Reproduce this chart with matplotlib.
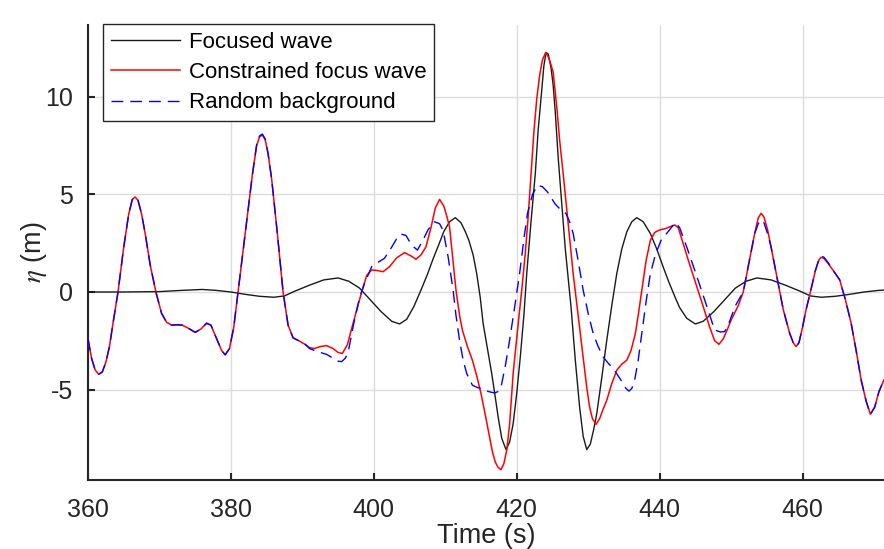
import matplotlib
matplotlib.use("Agg")
import matplotlib.pyplot as plt

# ---------------- data ----------------
t_focused = [360.0, 365.0, 370.0, 373.0, 376.0, 378.0, 380.0, 382.0, 384.0, 386.0,
             387.5, 389.0, 391.0, 393.0, 395.0, 396.5, 398.0, 399.5, 401.0, 402.5,
             403.6, 404.6, 405.6, 406.6, 407.5, 408.3, 409.05, 409.8, 410.6, 411.4,
             412.2, 412.8, 413.3, 413.9, 414.4, 414.9, 415.3, 415.9, 416.5, 417.0,
             417.4, 417.9, 418.5, 419.0, 419.5, 420.0, 420.5, 421.0, 421.4, 422.0,
             422.6, 423.0, 423.5, 423.8, 424.1, 424.4, 424.8, 425.1, 425.4, 425.8,
             426.2, 426.8, 427.6, 428.2, 428.8, 429.3, 429.8, 430.3, 430.8, 431.2,
             431.9, 432.6, 433.3, 434.0, 434.7, 435.4, 436.1, 436.8, 437.7, 438.7,
             439.6, 440.5, 441.3, 442.2, 442.8, 443.8, 445.0, 446.1, 447.6, 449.1,
             450.6, 452.1, 453.6, 455.6, 457.6, 459.6, 461.1, 462.6, 464.6, 466.6,
             468.6, 470.6, 471.4]
eta_focused = [0.0, 0.0, 0.02, 0.08, 0.13, 0.08, 0.0, -0.12, -0.22, -0.27,
               -0.2, 0.05, 0.35, 0.62, 0.72, 0.55, 0.2, -0.4, -1.0, -1.5,
               -1.64, -1.4, -0.75, 0.1, 0.9, 1.7, 2.39, 3.1, 3.6, 3.81,
               3.55, 3.1, 2.65, 1.9, 0.94, -0.3, -1.62, -2.9, -4.18, -5.4,
               -6.41, -7.5, -8.08, -7.7, -6.75, -5.2, -3.33, -1.2, 0.94, 3.6,
               6.07, 8.3, 10.34, 11.6, 12.28, 12.2, 11.5, 10.6, 9.2, 6.9,
               5.0, 2.2, -0.77, -3.5, -5.9, -7.4, -8.08, -7.8, -7.0, -6.24,
               -4.4, -2.48, -0.7, 0.94, 2.2, 3.08, 3.6, 3.81, 3.6, 3.0,
               2.2, 1.28, 0.5, -0.3, -0.8, -1.35, -1.64, -1.5, -1.0, -0.4,
               0.2, 0.55, 0.72, 0.62, 0.35, 0.05, -0.2, -0.27, -0.22, -0.12,
               0.0, 0.08, 0.1]

t_constrained = [360.0, 360.5, 361.0, 361.5, 362.0, 362.5, 363.0, 363.5, 364.2, 365.0,
                 365.7, 366.2, 366.6, 367.0, 367.5, 368.0, 368.7, 369.5, 370.3, 371.0,
                 371.7, 372.5, 373.2, 374.0, 375.0, 375.8, 376.6, 377.2, 378.0, 378.7,
                 379.2, 379.8, 380.4, 381.0, 382.0, 383.0, 383.6, 384.0, 384.4, 384.8,
                 385.2, 385.7, 386.5, 387.3, 388.0, 388.7, 389.5, 390.3, 391.0, 391.7,
                 392.5, 393.4, 394.3, 395.0, 395.6, 396.3, 397.1, 398.3, 399.0, 399.7,
                 400.5, 401.3, 402.2, 403.2, 404.3, 405.2, 405.9, 406.6, 407.3, 408.0,
                 408.6, 409.2, 409.8, 410.2, 410.6, 411.0, 411.5, 412.0, 412.4, 413.1,
                 413.8, 414.4, 415.0, 415.6, 416.2, 416.6, 417.0, 417.4, 417.8, 418.2,
                 418.6, 419.0, 419.5, 420.1, 420.7, 421.2, 421.6, 422.0, 422.4, 422.8,
                 423.2, 423.6, 424.05, 424.5, 425.1, 425.6, 426.0, 426.5, 427.2, 427.9,
                 428.6, 429.3, 429.8, 430.2, 430.6, 431.1, 431.6, 432.1, 432.6, 433.3,
                 434.0, 434.7, 435.4, 436.0, 436.6, 437.0, 437.5, 438.1, 438.7, 439.3,
                 439.8, 440.2, 440.8, 441.5, 442.1, 442.6, 443.2, 444.0, 445.0, 446.1,
                 447.0, 447.7, 448.3, 448.9, 449.5, 450.0, 451.0, 451.7, 452.5, 453.3,
                 453.8, 454.2, 454.6, 455.1, 455.6, 456.5, 457.3, 458.2, 458.7, 459.1,
                 459.5, 460.0, 460.5, 461.0, 461.8, 462.3, 462.6, 463.0, 463.6, 464.3,
                 465.2, 466.0, 466.8, 467.5, 468.2, 468.9, 469.5, 470.1, 470.7, 471.4]
eta_constrained = [-2.4, -3.4, -4.0, -4.22, -4.1, -3.6, -2.8, -1.6, 0.0, 2.3,
                   4.0, 4.75, 4.87, 4.7, 4.0, 3.0, 1.4, 0.0, -1.1, -1.55,
                   -1.7, -1.68, -1.7, -1.85, -2.07, -1.9, -1.6, -1.7, -2.4, -3.0,
                   -3.22, -2.9, -1.8, 0.0, 3.0, 6.0, 7.5, 7.95, 8.05, 7.8,
                   7.1, 5.8, 3.0, 0.0, -1.7, -2.35, -2.5, -2.67, -2.85, -2.9,
                   -2.8, -2.75, -2.9, -3.1, -3.15, -2.7, -1.6, 0.0, 0.85, 1.13,
                   1.1, 1.04, 1.3, 1.75, 2.02, 1.85, 1.68, 1.9, 2.32, 3.3,
                   4.3, 4.75, 4.4, 3.9, 3.33, 1.9, 0.09, -1.2, -1.96, -2.8,
                   -3.5, -4.3, -5.21, -6.3, -7.44, -8.2, -8.72, -9.0, -9.11, -8.8,
                   -8.12, -6.8, -4.18, -2.0, 0.09, 2.0, 3.85, 6.0, 8.2, 9.9,
                   11.1, 11.9, 12.28, 12.0, 11.28, 9.5, 7.8, 6.07, 3.5, 0.94,
                   -1.2, -3.33, -4.9, -5.9, -6.5, -6.79, -6.5, -6.0, -5.55, -4.7,
                   -4.01, -3.7, -3.5, -3.0, -2.13, -1.2, 0.09, 1.6, 2.65, 3.05,
                   3.15, 3.2, 3.25, 3.35, 3.44, 3.3, 2.6, 1.64, 0.5, -0.75,
                   -1.8, -2.5, -2.68, -2.4, -1.9, -1.44, -0.7, 0.0, 1.5, 3.0,
                   3.8, 4.03, 3.85, 3.2, 2.3, 0.62, -0.9, -2.12, -2.6, -2.8,
                   -2.6, -1.8, -0.9, -0.15, 1.1, 1.65, 1.78, 1.72, 1.45, 1.1,
                   0.62, -0.4, -1.6, -3.0, -4.51, -5.6, -6.27, -5.9, -5.1, -4.5]

t_random = [360.0, 360.5, 361.0, 361.5, 362.0, 362.5, 363.0, 363.5, 364.2, 365.0,
            365.7, 366.2, 366.6, 367.0, 367.5, 368.0, 368.7, 369.5, 370.3, 371.0,
            371.7, 372.5, 373.2, 374.0, 375.0, 375.8, 376.6, 377.2, 378.0, 378.7,
            379.2, 379.8, 380.4, 381.0, 382.0, 383.0, 383.6, 384.0, 384.4, 384.8,
            385.2, 385.7, 386.5, 387.3, 388.0, 388.7, 389.5, 390.3, 391.0, 391.7,
            392.5, 393.4, 394.3, 395.0, 395.5, 396.0, 396.4, 397.2, 398.0, 398.7,
            399.7, 400.5, 401.5, 402.5, 403.3, 403.8, 404.5, 405.3, 406.1, 406.8,
            407.6, 408.5, 409.2, 409.7, 410.4, 411.1, 411.5, 412.0, 412.5, 413.0,
            413.8, 414.5, 415.2, 416.0, 416.9, 417.4, 417.8, 418.4, 419.0, 419.7,
            420.4, 421.0, 421.5, 422.2, 422.9, 423.6, 424.3, 425.4, 426.2, 426.9,
            427.4, 427.9, 428.6, 429.3, 430.0, 430.7, 431.4, 432.1, 432.8, 433.5,
            434.2, 434.9, 435.3, 435.7, 436.1, 436.5, 437.0, 437.5, 438.1, 438.7,
            439.4, 440.2, 441.2, 442.2, 442.8, 443.8, 444.9, 446.3, 447.7, 448.5,
            449.1, 449.8, 450.6, 451.7, 452.5, 453.3, 453.8, 454.2, 454.6, 455.1,
            455.6, 456.5, 457.3, 458.2, 458.7, 459.1, 459.5, 460.0, 460.5, 461.0,
            461.8, 462.3, 462.6, 463.0, 463.6, 464.3, 465.2, 466.0, 466.8, 467.5,
            468.2, 468.9, 469.5, 470.1, 470.7, 471.4]
eta_random = [-2.4, -3.4, -4.0, -4.22, -4.1, -3.6, -2.8, -1.6, 0.0, 2.3,
              4.0, 4.75, 4.87, 4.7, 4.0, 3.0, 1.4, 0.0, -1.1, -1.55,
              -1.7, -1.68, -1.7, -1.85, -2.07, -1.9, -1.6, -1.7, -2.4, -3.0,
              -3.22, -2.9, -1.8, 0.0, 3.0, 6.0, 7.55, 8.0, 8.1, 7.85,
              7.1, 5.8, 3.0, 0.0, -1.7, -2.35, -2.5, -2.65, -2.9, -3.0,
              -3.1, -3.2, -3.4, -3.55, -3.57, -3.4, -3.1, -1.6, -0.3, 0.44,
              1.3, 1.5, 1.73, 2.3, 2.8, 2.97, 2.9, 2.4, 2.15, 2.6,
              3.2, 3.6, 3.5, 3.16, 1.8, 0.09, -1.2, -2.48, -3.5, -4.18,
              -4.78, -4.9, -4.96, -5.1, -5.18, -5.1, -4.87, -3.8, -2.48, -0.8,
              0.94, 2.7, 4.02, 5.0, 5.47, 5.4, 5.13, 4.5, 4.2, 4.02,
              3.6, 3.0, 1.6, 0.09, -1.1, -2.13, -2.8, -3.33, -3.65, -3.93,
              -4.3, -4.7, -4.95, -5.08, -4.95, -4.53, -3.5, -2.13, -0.5, 0.94,
              1.9, 2.65, 3.1, 3.56, 3.3, 2.3, 1.13, -0.4, -1.95, -2.05,
              -2.03, -1.5, -0.7, 0.0, 1.5, 3.0, 3.5, 3.7, 3.55, 3.0,
              2.3, 0.62, -0.9, -2.12, -2.6, -2.8, -2.6, -1.8, -0.9, -0.15,
              1.1, 1.7, 1.85, 1.78, 1.5, 1.1, 0.62, -0.4, -1.6, -3.0,
              -4.51, -5.6, -6.27, -5.9, -5.1, -4.5]

labels = ["Focused wave", "Constrained focus wave", "Random background"]
x_ticks = [360, 380, 400, 420, 440, 460]
y_ticks = [-5, 0, 5, 10]

# ---------------- figure ----------------
plt.rcParams['font.family'] = ['Liberation Sans', 'DejaVu Sans']
plt.rcParams['mathtext.fontset'] = 'stix'

fig = plt.figure(figsize=(8.84, 5.49), dpi=100)
ax = fig.add_axes([88/884, 1 - 480/549, 1 - 88/884, (480 - 25)/549])

ax.plot(t_focused, eta_focused, color='#1a1a1a', lw=1.0, label=labels[0], zorder=3)
ax.plot(t_constrained, eta_constrained, color='#ff0000', lw=1.1, label=labels[1], zorder=4)
ax.plot(t_random, eta_random, color='#0000ff', lw=1.0, ls=(0, (8.5, 5)), label=labels[2], zorder=5)

ax.set_xlim(360, 471.4)
ax.set_ylim(-9.64, 13.69)
ax.set_xticks(x_ticks)
ax.set_yticks(y_ticks)
ax.set_yticklabels([str(v) for v in y_ticks])

ax.grid(True, color='#dcdcdc', lw=1.0, zorder=0)
ax.set_axisbelow(True)

for s in ['top', 'right']:
    ax.spines[s].set_visible(False)
for s in ['left', 'bottom']:
    ax.spines[s].set_color('#262626')
    ax.spines[s].set_linewidth(1.5)

ax.tick_params(direction='in', length=5, width=1.5, colors='#262626',
               labelsize=18, labelcolor='#262626')
ax.tick_params(axis='x', pad=13)
ax.tick_params(axis='y', pad=11)

ax.set_xlabel('Time (s)', fontsize=19.5, color='#262626', labelpad=1)
ax.set_ylabel(r'$\eta$ (m)', fontsize=19.5, color='#262626', labelpad=-3)

leg = ax.legend(loc='upper left', bbox_to_anchor=(15/796, 1.0 + 1/455), borderaxespad=0,
                fontsize=16, handlelength=3.1, handletextpad=0.4, labelspacing=0.42,
                fancybox=False, framealpha=1, edgecolor='#262626', borderpad=0.35)
leg.get_frame().set_linewidth(1.0)
for txt in leg.get_texts():
    txt.set_color('#000000')

fig.savefig('out.png', dpi=100)
